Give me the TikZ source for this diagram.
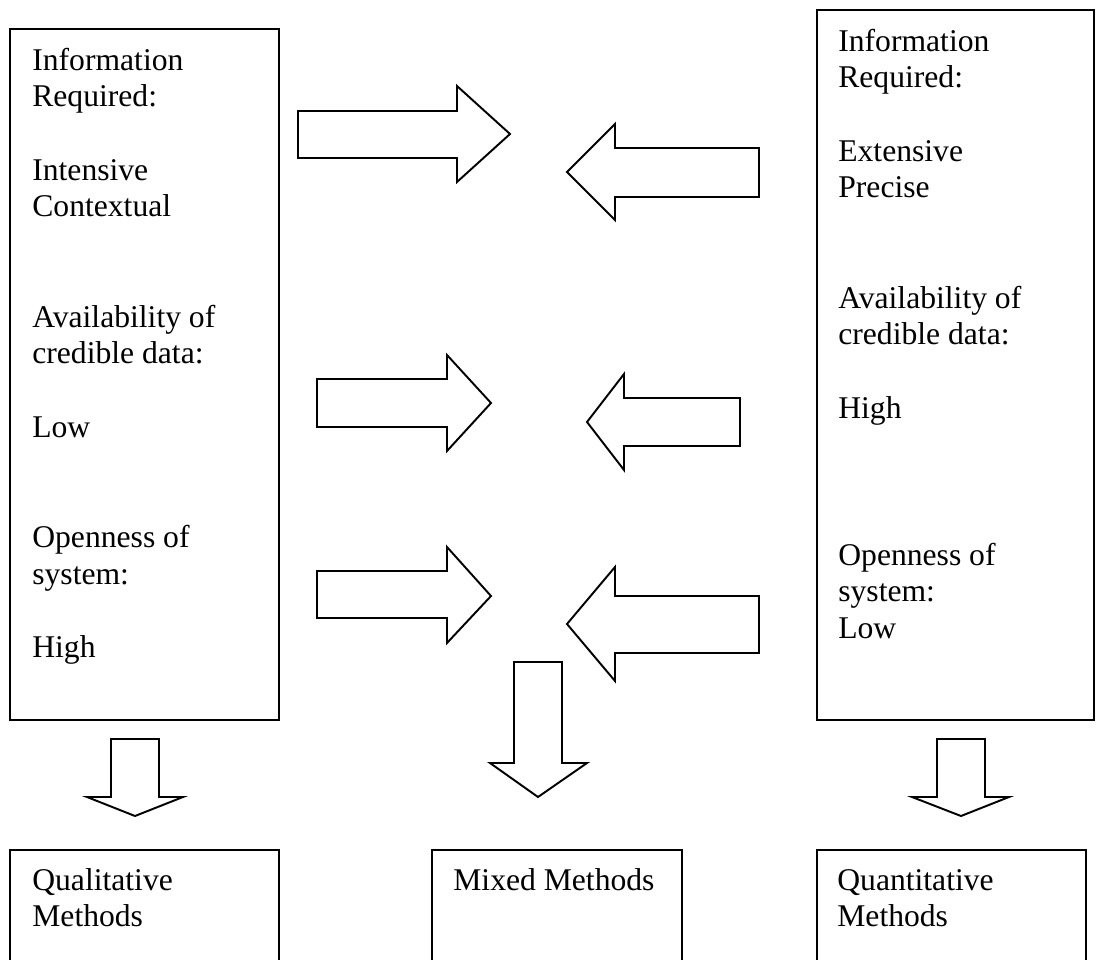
\documentclass[tikz,border=0pt]{standalone}
\usepackage{fontspec}
\setmainfont{Liberation Serif}
\tikzset{
  panel/.style={draw, line width=1.1pt},
  blockarrow/.style={draw, line width=1.1pt, line join=miter},
  boxtext/.style={anchor=north west, inner sep=0pt, align=left,
    font=\fontsize{18}{20.9}\selectfont},
}
\begin{document}
\begin{tikzpicture}[x=0.02cm, y=-0.02cm]
    \useasboundingbox (0,0) rectangle (1096,960);

    % Factor boxes
    \draw[panel] (10,29) rectangle (279,720);
    \draw[panel] (817,10) rectangle (1094,720);
    \node[boxtext] (qualfactors) at (32,44) {\strut Information\\Required:\\ \\Intensive\\Contextual\\ \\ \\Availability of\\credible data:\\ \\Low\\ \\ \\Openness of\\system:\\ \\High};
    \node[boxtext] (quantfactors) at (838,25) {\strut Information\\Required:\\ \\Extensive\\Precise\\ \\ \\Availability of\\credible data:\\ \\High\\ \\ \\ \\Openness of\\system:\\Low};

    % Arrows towards the middle
    \draw[blockarrow] (298,111) -- (457,111) -- (457,86) -- (510,134) -- (457,182) -- (457,158) -- (298,158) -- cycle;
    \draw[blockarrow] (759,148) -- (615,148) -- (615,124) -- (567,172) -- (615,220) -- (615,197) -- (759,197) -- cycle;
    \draw[blockarrow] (317,379) -- (447,379) -- (447,355) -- (491,403) -- (447,451) -- (447,427) -- (317,427) -- cycle;
    \draw[blockarrow] (740,398) -- (624,398) -- (624,374) -- (587,422) -- (624,470) -- (624,446) -- (740,446) -- cycle;
    \draw[blockarrow] (317,571) -- (447,571) -- (447,547) -- (491,596) -- (447,643) -- (447,618) -- (317,618) -- cycle;
    \draw[blockarrow] (759,596) -- (615,596) -- (615,567) -- (567,624) -- (615,681) -- (615,653) -- (759,653) -- cycle;

    % Arrows down to the methods
    \draw[blockarrow] (111,739) -- (159,739) -- (159,797) -- (183,797) -- (135,816) -- (87,797) -- (111,797) -- cycle;
    \draw[blockarrow] (514,662) -- (562,662) -- (562,763) -- (587,763) -- (538,797) -- (490,763) -- (514,763) -- cycle;
    \draw[blockarrow] (937,739) -- (985,739) -- (985,797) -- (1009,797) -- (961,816) -- (912,797) -- (937,797) -- cycle;

    % Method boxes (cut off at the bottom)
    \draw[panel] (10,960) -- (10,850) -- (279,850) -- (279,960);
    \draw[panel] (432,960) -- (432,850) -- (682,850) -- (682,960);
    \draw[panel] (817,960) -- (817,850) -- (1086,850) -- (1086,960);
    \node[boxtext] (qualmethods) at (32,864) {\strut Qualitative\\Methods};
    \node[boxtext] (mixedmethods) at (453,864) {\strut Mixed Methods};
    \node[boxtext] (quantmethods) at (837,864) {\strut Quantitative\\Methods};
\end{tikzpicture}
\end{document}
